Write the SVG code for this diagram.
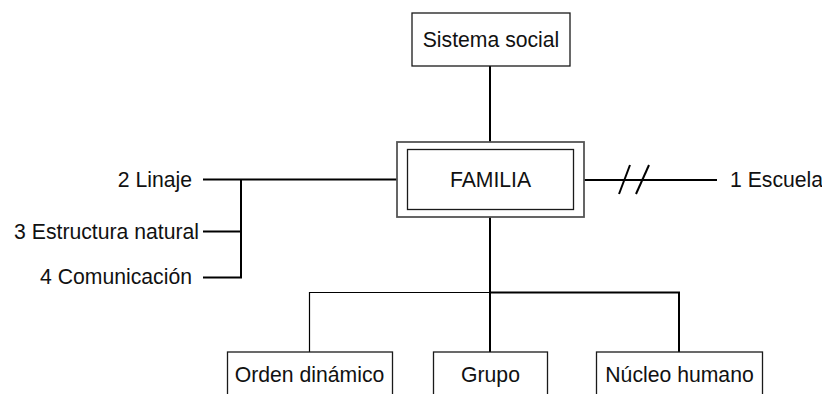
<svg xmlns="http://www.w3.org/2000/svg" width="822" height="394" viewBox="0 0 822 394">
  <style>
    .box { fill: #ffffff; stroke: #1a1a1a; stroke-width: 1.3; }
    .outer { fill: #ffffff; stroke: #555555; stroke-width: 1.8; }
    .lbl { font-family: "Liberation Sans", Arial, sans-serif; font-size: 21.2px; fill: #111111; }
    .mid { text-anchor: middle; }
    .end { text-anchor: end; }
    .wire { fill: none; stroke: #000000; stroke-width: 2; }
    .thin { fill: none; stroke: #000000; stroke-width: 1.2; }
  </style>
  <rect width="822" height="394" fill="#ffffff"/>

  <!-- connectors -->
  <g id="connectors">
    <!-- Sistema social to FAMILIA -->
    <line class="wire" x1="490" y1="66" x2="490" y2="142"/>
    <!-- left branch -->
    <line class="wire" x1="203" y1="179.5" x2="397" y2="179.5"/>
    <polyline class="wire" points="241,179.5 241,277.5 203,277.5"/>
    <line class="wire" x1="203" y1="231.5" x2="241" y2="231.5"/>
    <!-- right branch with break marks -->
    <line class="wire" x1="584" y1="180" x2="717" y2="180"/>
    <line class="wire" x1="630" y1="165" x2="619" y2="194"/>
    <line class="wire" x1="649" y1="165" x2="636" y2="194"/>
    <!-- lower tree -->
    <line class="wire" x1="490" y1="217" x2="490" y2="352"/>
    <polyline class="thin" points="309.5,352 309.5,292.5 490,292.5"/>
    <polyline class="wire" points="490,292.5 679,292.5 679,352"/>
  </g>

  <g id="sistema-social">
    <rect class="box" x="412" y="13" width="158" height="53"/>
    <text class="lbl mid" x="491" y="46.5">Sistema social</text>
  </g>

  <g id="familia">
    <rect class="outer" x="397" y="142" width="187" height="75"/>
    <rect class="box" x="407.5" y="149.5" width="166" height="60"/>
    <text class="lbl mid" x="490.5" y="186.5">FAMILIA</text>
  </g>

  <g id="escuela">
    <text class="lbl" x="730" y="186.5">1 Escuela</text>
  </g>

  <g id="linaje">
    <text class="lbl end" x="192" y="186.5">2 Linaje</text>
  </g>

  <g id="estructura-natural">
    <text class="lbl end" x="199" y="238.5">3 Estructura natural</text>
  </g>

  <g id="comunicacion">
    <text class="lbl end" x="192" y="283.5">4 Comunicación</text>
  </g>

  <g id="orden-dinamico">
    <rect class="box" x="227.5" y="352" width="165" height="60"/>
    <text class="lbl mid" x="309.5" y="381.5">Orden dinámico</text>
  </g>

  <g id="grupo">
    <rect class="box" x="433.5" y="352" width="114" height="60"/>
    <text class="lbl mid" x="490.5" y="381.5">Grupo</text>
  </g>

  <g id="nucleo-humano">
    <rect class="box" x="596.5" y="352" width="166" height="60"/>
    <text class="lbl mid" x="679.5" y="381.5">Núcleo humano</text>
  </g>
</svg>
